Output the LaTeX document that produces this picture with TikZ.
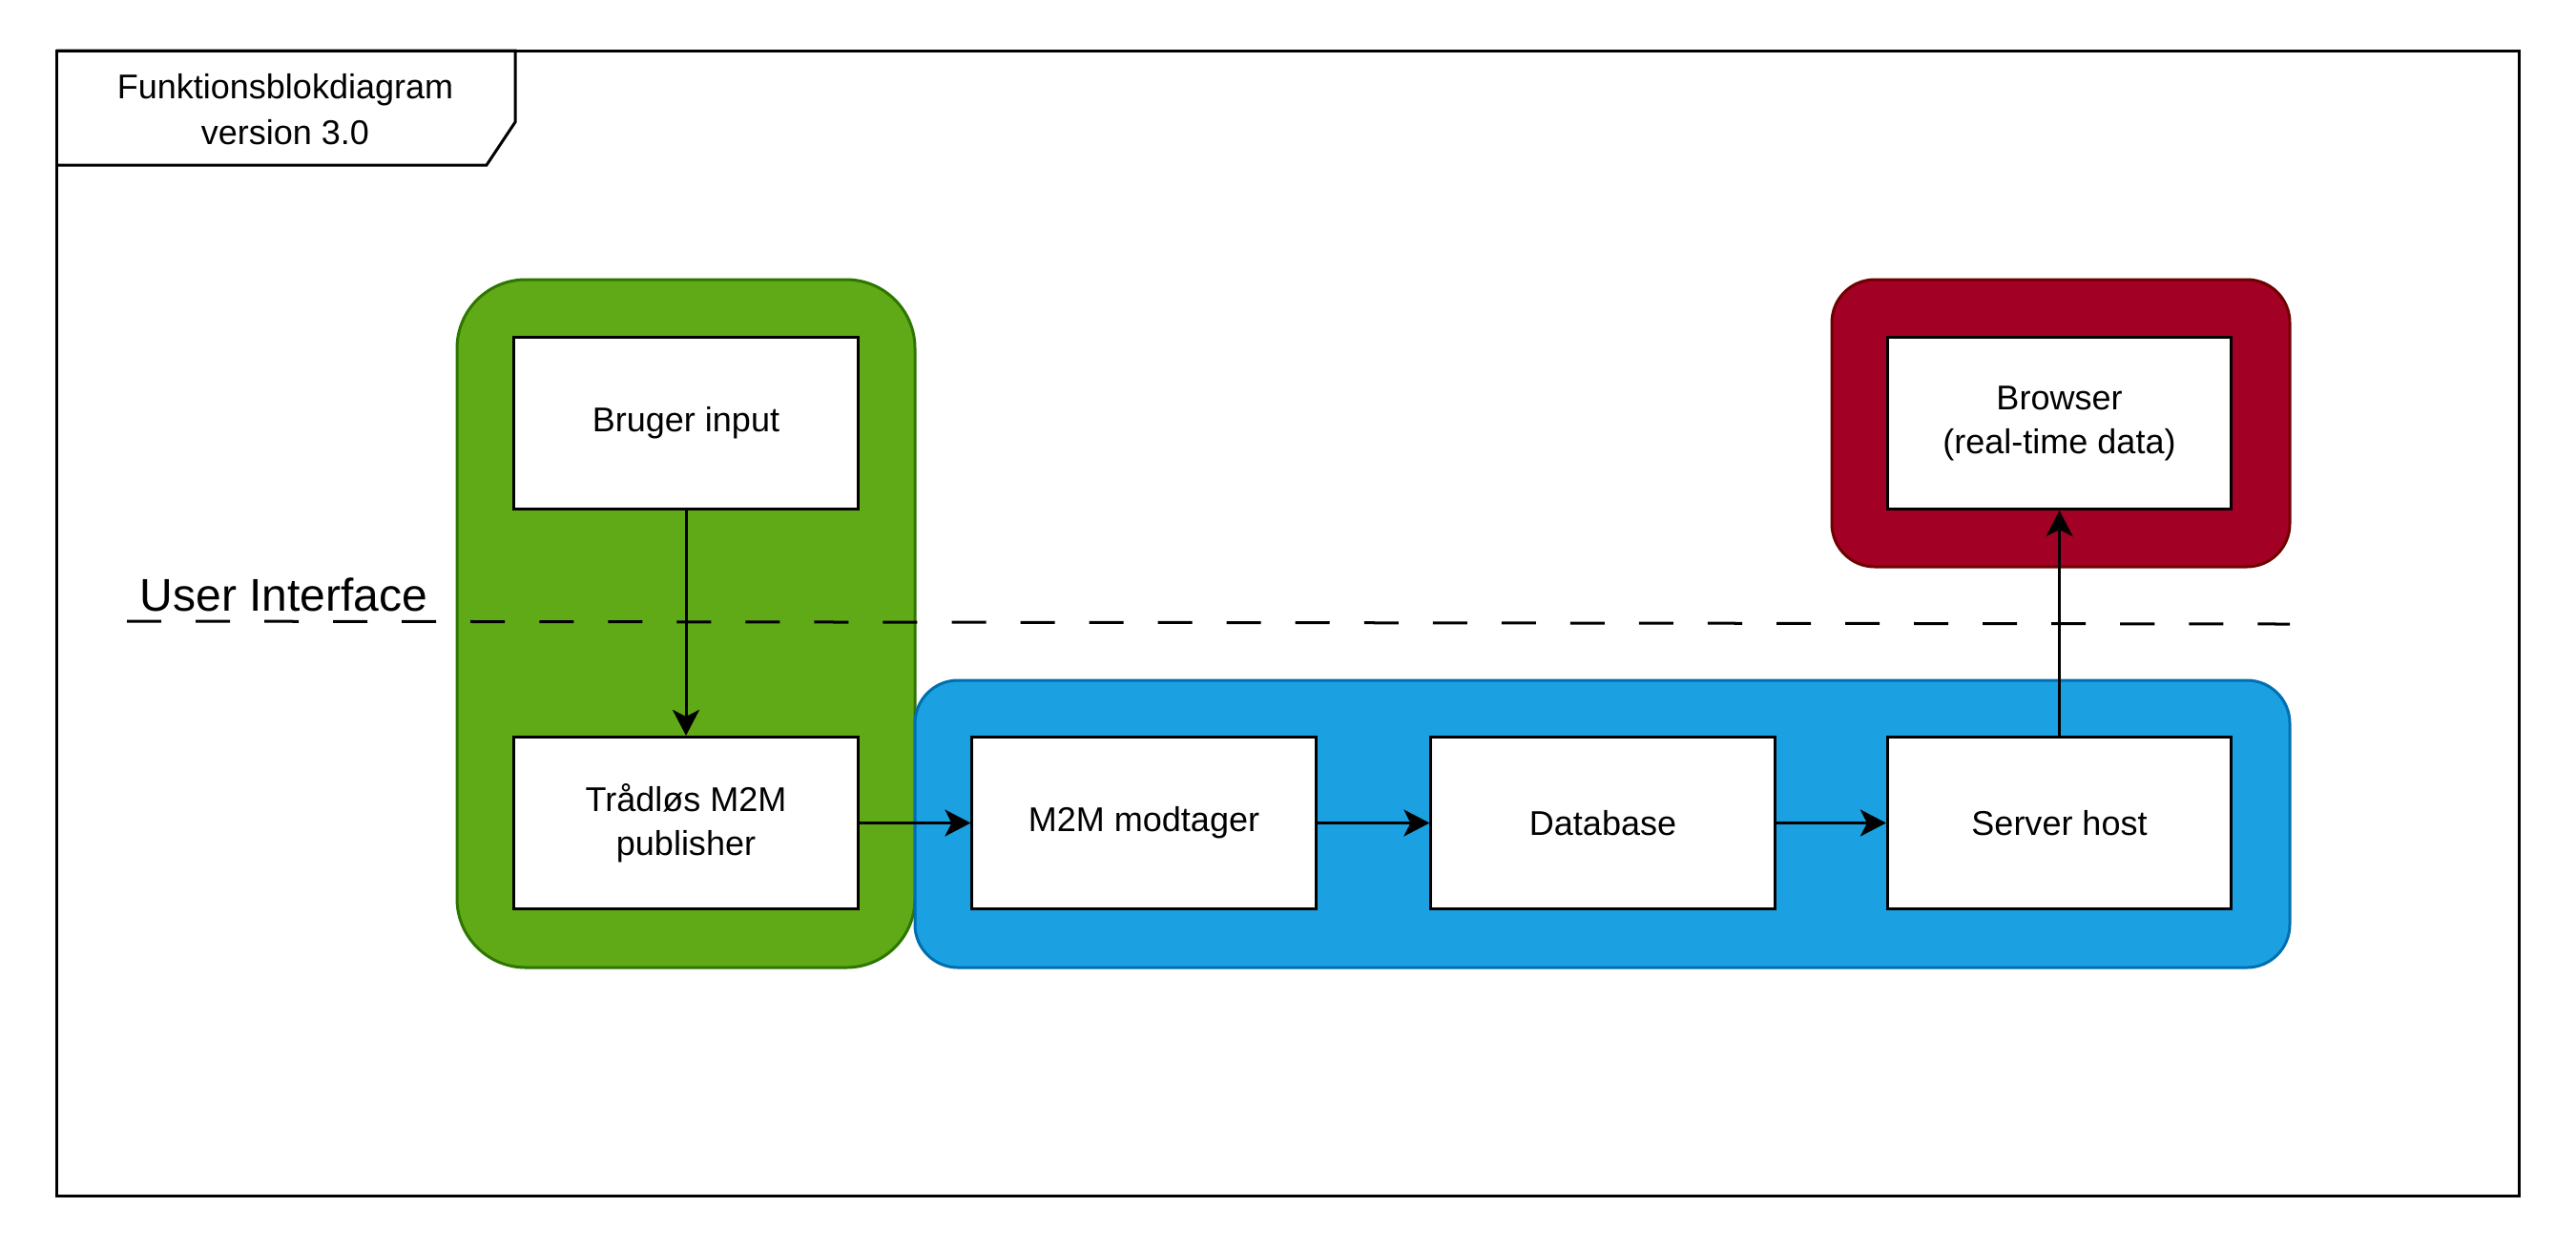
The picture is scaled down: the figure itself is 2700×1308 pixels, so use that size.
\documentclass[tikz,border=0pt]{standalone}
\usepackage{fontspec}
\setmainfont{Liberation Sans}
\usetikzlibrary{arrows.meta}
\definecolor{gfill}{HTML}{60A917}
\definecolor{gdraw}{HTML}{2D7600}
\definecolor{bfill}{HTML}{1BA1E2}
\definecolor{bdraw}{HTML}{006EAF}
\definecolor{rfill}{HTML}{A20025}
\definecolor{rdraw}{HTML}{6F0000}
\tikzset{
  blockbox/.style={draw=black, fill=white, line width=0.03cm, minimum width=3.6cm, minimum height=1.8cm, align=center, inner sep=0pt, font=\fontsize{10.24}{13.1}\selectfont},
  flow/.style={draw=black, line width=0.03cm, -{Stealth[length=0.27cm, width=0.28cm, inset=0.07cm]}},
  container/.style={line width=0.03cm},
  uidash/.style={draw=black, line width=0.03cm, dash pattern=on 0.36cm off 0.36cm},
}
\begin{document}
\begin{tikzpicture}[x=0.01cm, y=-0.01cm]
\useasboundingbox (0,0) rectangle (2700,1308);
% outer frame
\draw[line width=0.03cm] (59,53) rectangle (2640,1253);
\draw[line width=0.03cm] (59,53) -- (540,53) -- (540,128) -- (510,173) -- (59,173);
\node[align=center, font=\fontsize{10.24}{13.6}\selectfont] (title) at (299,115) {Funktionsblokdiagram\\version 3.0};
% containers
\draw[container, fill=gfill, draw=gdraw, rounded corners=0.72cm] (479,293) rectangle (959,1014);
\draw[container, fill=bfill, draw=bdraw, rounded corners=0.45cm] (959,713) rectangle (2400,1014);
\draw[container, fill=rfill, draw=rdraw, rounded corners=0.45cm] (1920,293) rectangle (2400,594);
% dashed separator
\coordinate (dashL) at (133,651);
\coordinate (dashR) at (2400,654);
\draw[uidash] (dashL) -- (dashR);
\node[anchor=base, font=\fontsize{13.66}{16}\selectfont, inner sep=0pt] (ui) at (297.5,640) {User Interface};
% blocks
\node[blockbox] (bruger) at (719,443.5) {Bruger input};
\node[blockbox] (traadlos) at (719,862.5) {Trådløs M2M\\publisher};
\node[blockbox] (modtager) at (1199,862.5) {M2M modtager};
\node[blockbox] (db) at (1680,862.5) {Database};
\node[blockbox] (server) at (2158.5,862.5) {Server host};
\node[blockbox] (browser) at (2158.5,443.5) {Browser\\(real-time data)};
% connectors
\draw[flow] (bruger) -- (traadlos);
\draw[flow] (traadlos) -- (modtager);
\draw[flow] (modtager) -- (db);
\draw[flow] (db) -- (server);
\draw[flow] (server) -- (browser);
\end{tikzpicture}
\end{document}
